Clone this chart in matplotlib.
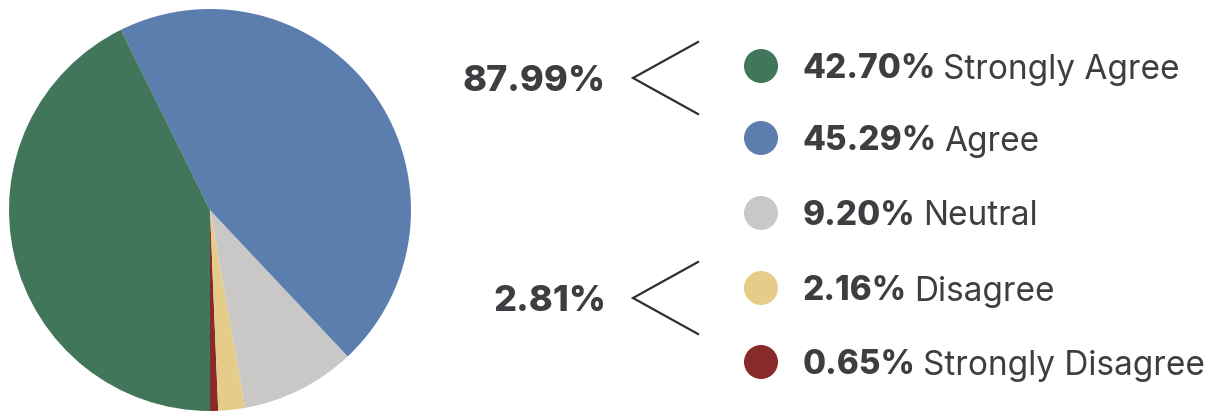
import matplotlib
matplotlib.use("Agg")
import matplotlib.pyplot as plt
from matplotlib.patches import Circle

# Survey response shares (percent)
labels = ["Strongly Agree", "Agree", "Neutral", "Disagree", "Strongly Disagree"]
values = [42.70, 45.29, 9.20, 2.16, 0.65]
colors = ["#41765b", "#5b7eae", "#c9c8c7", "#e5cd89", "#88292a"]
group_labels = ["87.99%", "2.81%"]

W, H = 1221, 411
TEXT = "#3d3e42"
plt.rcParams["font.family"] = ["Inter", "DejaVu Sans"]

fig = plt.figure(figsize=(W / 100, H / 100), dpi=100)
ax = fig.add_axes([0, 0, 1, 1])

# pie: drawn counterclockwise from straight down, smallest slice first
order = list(reversed(range(len(values))))
ax.pie([values[i] for i in order], colors=[colors[i] for i in order],
       startangle=-90, counterclock=True, center=(210, H - 210), radius=201,
       frame=True, wedgeprops=dict(linewidth=0))
ax.set_xlim(0, W)
ax.set_ylim(0, H)
ax.set_aspect("equal")
ax.axis("off")

# legend rows
row_y = [66, 138, 213, 288, 362]
fig.canvas.draw()
renderer = fig.canvas.get_renderer()
for i, (lab, val, col) in enumerate(zip(labels, values, colors)):
    y = H - row_y[i]
    ax.add_patch(Circle((761, y), 17, color=col, lw=0))
    t = ax.text(803, y, f"{val:.2f}%", fontsize=24, fontweight="heavy",
                color=TEXT, va="center_baseline", ha="left")
    bb = t.get_window_extent(renderer)
    x_end = ax.transData.inverted().transform((bb.x1, bb.y0))[0]
    ax.text(x_end + 7, y, lab, fontsize=24, color=TEXT,
            va="center_baseline", ha="left")

# group brackets
bracket_y = [78, 298]
for g, yy in zip(group_labels, bracket_y):
    y = H - yy
    ax.text(606, y, g, fontsize=26, fontweight="heavy", color=TEXT,
            va="center_baseline", ha="right")
    ax.plot([698, 633, 698], [y + 36, y, y - 36], color="#2e2f33",
            lw=1.6, solid_joinstyle="miter")

fig.savefig("out.png", dpi=100, facecolor="white")
